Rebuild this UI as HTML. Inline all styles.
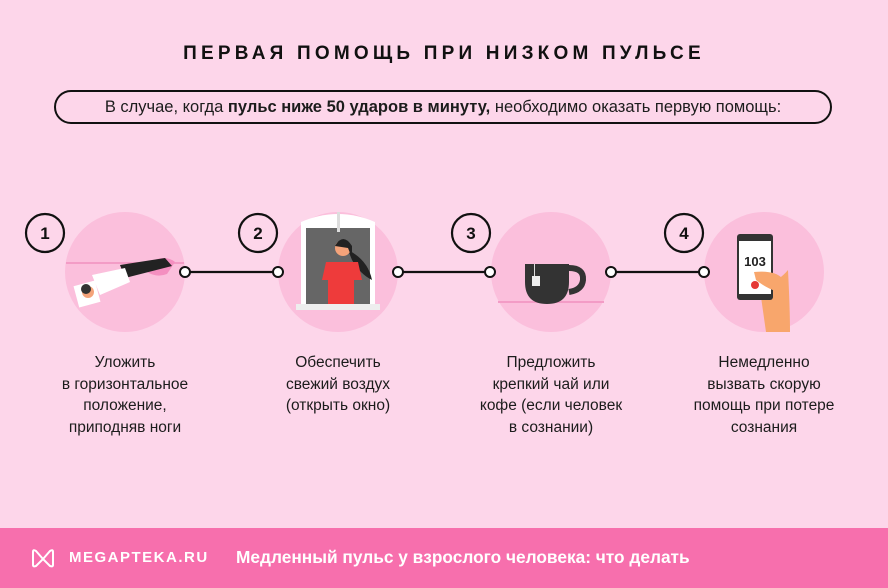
<!DOCTYPE html>
<html><head><meta charset="utf-8"><style>
*{margin:0;padding:0;box-sizing:border-box}
body{width:888px;height:588px;background:#fdd6ea;font-family:"Liberation Sans","Noto Sans CJK SC",sans-serif;color:#1c1c1c;position:relative;overflow:hidden}
.t{position:absolute;left:0;width:888px;top:43px;text-align:center;font-size:19px;font-weight:bold;letter-spacing:4.2px;color:#111}
.pill{position:absolute;left:54px;top:90px;width:778px;height:34px;border:2px solid #111;border-radius:17px;text-align:center;font-size:16.5px;line-height:30px}
.cap{position:absolute;width:200px;text-align:center;font-size:15.5px;line-height:21.5px;top:352px}
.foot{position:absolute;left:0;top:528px;width:888px;height:60px;background:#f76fad;color:#fff;font-weight:bold}
</style></head><body>
<div class="t">ПЕРВАЯ ПОМОЩЬ ПРИ НИЗКОМ ПУЛЬСЕ</div>
<div class="pill">В случае, когда <b>пульс ниже 50 ударов в минуту,</b> необходимо оказать первую помощь:</div>
<svg style="position:absolute;left:0;top:0" width="888" height="528">
<g fill="#fbbfdc"><circle cx="125" cy="272" r="60"/><circle cx="338" cy="272" r="60"/><circle cx="551" cy="272" r="60"/><circle cx="764" cy="272" r="60"/></g>
<line x1="66" y1="263" x2="184" y2="263" stroke="#f39cc6" stroke-width="2"/>
<line x1="498" y1="302" x2="604" y2="302" stroke="#f39cc6" stroke-width="2"/>
<g stroke="#111" stroke-width="2.2" fill="none">
<circle cx="45" cy="233" r="19"/><circle cx="258" cy="233" r="19"/><circle cx="471" cy="233" r="19"/><circle cx="684" cy="233" r="19"/>
<line x1="190" y1="272" x2="273" y2="272"/><line x1="403" y1="272" x2="485" y2="272"/><line x1="616" y1="272" x2="699" y2="272"/>
</g>
<g stroke="#111" stroke-width="2" fill="#fff">
<circle cx="185" cy="272" r="5"/><circle cx="278" cy="272" r="5"/><circle cx="398" cy="272" r="5"/><circle cx="490" cy="272" r="5"/><circle cx="611" cy="272" r="5"/><circle cx="704" cy="272" r="5"/>
</g>
<g font-size="17" font-weight="bold" text-anchor="middle" fill="#111"><text x="45" y="239">1</text><text x="258" y="239">2</text><text x="471" y="239">3</text><text x="684" y="239">4</text></g>
<path d="M150 262 q15 -8 25 0 l-8 12 q-10 4 -20 -2z" fill="#f48fc0"/>
<polygon points="120,265 165,258 172,266 125,278" fill="#222"/>
<polygon points="92,275 125,268 130,282 100,295" fill="#fff"/>
<rect x="76" y="283" width="22" height="22" fill="#fff" transform="rotate(-15 87 294)"/>
<circle cx="88" cy="292" r="6" fill="#f4a37a"/><circle cx="86" cy="289" r="5" fill="#333"/>
<path d="M301 310 V222 q37 -16 74 0 V310z" fill="#fff"/>
<path d="M306 308 V228 h64 V308z" fill="#666"/>
<rect x="337" y="212" width="3" height="20" fill="#ddd"/>
<path d="M348 250 q20 10 24 30 q-12 -6 -20 -20z" fill="#222"/>
<circle cx="343" cy="248" r="8" fill="#f4a37a"/><path d="M335 246 q8 -14 17 0 l0 12 -4 -10z" fill="#222"/>
<path d="M326 262 h32 l4 18 -8 0 v24 h-26 v-24 l-6 0z" fill="#ee3b3b"/>
<rect x="296" y="304" width="84" height="6" fill="#eee"/>
<path d="M525 264 h44 v18 q0 22 -22 22 q-22 0 -22 -22z" fill="#333"/>
<path d="M569 268 q15 0 14 12 q-1 10 -14 12" stroke="#333" stroke-width="6" fill="none"/>
<rect x="534" y="264" width="1" height="12" fill="#ddd"/><rect x="532" y="276" width="8" height="10" fill="#eee"/>
<path d="M760 290 q20 -10 28 -20 q2 40 2 62 h-24 z" fill="#f8a66c"/>
<rect x="737" y="234" width="36" height="66" rx="3" fill="#333"/>
<rect x="739" y="241" width="32" height="53" fill="#fff"/>
<text x="755" y="266" font-size="13" font-weight="bold" text-anchor="middle" fill="#222">103</text>
<circle cx="755" cy="285" r="4" fill="#e53935"/>
<path d="M754 272 q20 -2 28 6 l-4 14 q-12 -4 -22 -12z" fill="#f8a66c"/>
</svg>
<div class="cap" style="left:25px">Уложить<br>в горизонтальное<br>положение,<br>приподняв ноги</div>
<div class="cap" style="left:238px">Обеспечить<br>свежий воздух<br>(открыть окно)</div>
<div class="cap" style="left:451px">Предложить<br>крепкий чай или<br>кофе (если человек<br>в сознании)</div>
<div class="cap" style="left:664px">Немедленно<br>вызвать скорую<br>помощь при потере<br>сознания</div>
<div class="foot">
<svg style="position:absolute;left:30px;top:19px" width="26" height="22"><path d="M3 18 V5 q0 -3 3 -1 l7 8 7 -8 q3 -2 3 1 V18 q0 2 -3 1 l-7 -7 -7 7 q-3 1 -3 -1z" fill="none" stroke="#fff" stroke-width="2"/></svg>
<div style="position:absolute;left:69px;top:21px;font-size:15px;letter-spacing:1.5px">MEGAPTEKA.RU</div>
<div style="position:absolute;left:236px;top:19px;font-size:17.3px">Медленный пульс у взрослого человека: что делать</div>
</div>
</body></html>
